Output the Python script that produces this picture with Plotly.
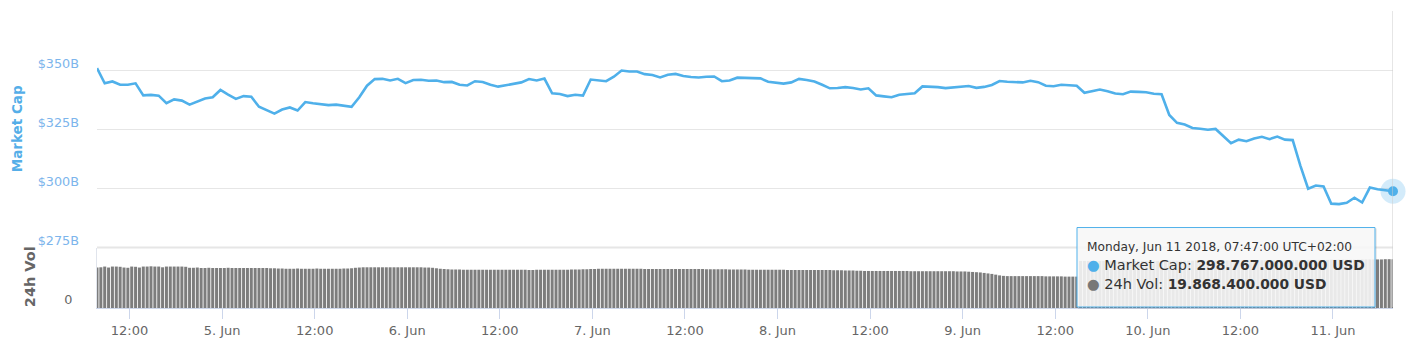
import datetime as dt
import plotly.graph_objects as go

# ---------------- data ----------------
start_time = dt.datetime(2018, 6, 4, 7, 47)

# Market cap (billions USD), hourly from 4 Jun 07:47 to 11 Jun 07:47
market_cap_b = [
    350.8, 344.4, 345.2, 343.8, 343.8, 344.4, 339.3, 339.5, 339.2, 336.0, 337.6, 337.1,
    335.4, 336.8, 338.0, 338.5, 341.6, 339.6, 337.8, 339.0, 338.7, 334.5, 333.2, 331.6,
    333.3, 334.2, 332.9, 336.5, 336.0, 335.5, 335.2, 335.4, 335.0, 334.5, 338.5, 343.4,
    346.2, 346.3, 345.6, 346.3, 344.5, 345.8, 345.9, 345.5, 345.6, 344.9, 345.0, 343.8,
    343.5, 345.3, 345.0, 343.8, 343.0, 343.7, 344.4, 344.8, 346.2, 345.6, 346.4, 340.2,
    339.9, 339.0, 339.6, 339.2, 346.0, 345.5, 345.3, 347.2, 349.8, 349.4, 349.4, 348.3,
    347.9, 346.9, 348.0, 348.4, 347.5, 347.1, 346.9, 347.2, 347.3, 345.3, 345.6, 346.8,
    346.6, 346.6, 346.5, 345.1, 344.6, 344.3, 344.8, 346.3, 345.8, 345.2, 343.8, 342.3,
    342.4, 342.8, 342.4, 341.8, 342.3, 339.3, 338.9, 338.5, 339.6, 339.9, 340.2, 343.1,
    343.1, 342.8, 342.4, 342.7, 342.8, 343.3, 342.5, 342.9, 343.7, 345.4, 345.1, 345.1,
    344.8, 345.5, 344.9, 343.4, 343.2, 343.8, 343.7, 343.4, 340.4, 341.0, 341.8, 341.1,
    340.1, 339.8, 340.9, 340.8, 340.6, 340.0, 339.8, 331.0, 327.7, 327.0, 325.5, 325.2,
    324.8, 325.1, 322.0, 319.1, 320.6, 319.9, 321.1, 321.8, 320.8, 321.9, 320.6, 320.4,
    309.5, 299.8, 301.2, 300.8, 293.5, 293.3, 293.9, 296.0, 294.0, 300.3, 299.6, 299.3,
    298.767,
]

# 24h volume (billions USD), every 30 minutes over the same period
volume_b = [
    16.5, 16.6, 16.9, 16.5, 16.9, 16.9, 16.8, 16.5, 16.4, 16.9, 16.8, 16.5,
    16.9, 16.9, 17.0, 16.9, 16.9, 16.6, 16.9, 16.9, 16.9, 16.9, 16.9, 16.8,
    16.4, 16.4, 16.5, 16.3, 16.3, 16.4, 16.3, 16.3, 16.3, 16.3, 16.4, 16.3,
    16.3, 16.3, 16.3, 16.3, 16.3, 16.3, 16.3, 16.3, 16.3, 16.2, 16.2, 16.1,
    16.1, 16.0, 16.0, 16.0, 16.1, 16.0, 16.0, 16.0, 16.0, 16.1, 16.0, 16.0,
    16.0, 16.0, 16.0, 16.0, 16.1, 16.1, 16.2, 16.4, 16.5, 16.6, 16.6, 16.6,
    16.6, 16.6, 16.6, 16.6, 16.6, 16.6, 16.6, 16.6, 16.6, 16.6, 16.6, 16.6,
    16.6, 16.5, 16.5, 16.4, 16.2, 16.0, 15.9, 15.8, 15.7, 15.7, 15.7, 15.6,
    15.6, 15.6, 15.6, 15.6, 15.6, 15.6, 15.6, 15.6, 15.6, 15.6, 15.6, 15.6,
    15.6, 15.6, 15.6, 15.6, 15.5, 15.5, 15.6, 15.6, 15.6, 15.6, 15.6, 15.6,
    15.6, 15.6, 15.6, 15.7, 15.7, 15.7, 15.8, 15.8, 15.9, 15.9, 16.0, 16.0,
    16.0, 16.0, 16.0, 16.0, 16.0, 16.0, 16.0, 16.0, 16.0, 16.0, 15.9, 15.9,
    15.9, 15.9, 15.9, 15.9, 15.9, 15.9, 15.9, 15.9, 15.9, 15.9, 15.9, 15.9,
    15.9, 15.9, 15.8, 15.8, 15.8, 15.8, 15.8, 15.8, 15.7, 15.7, 15.7, 15.7,
    15.7, 15.6, 15.6, 15.6, 15.6, 15.6, 15.6, 15.6, 15.6, 15.6, 15.6, 15.5,
    15.5, 15.5, 15.5, 15.5, 15.5, 15.5, 15.5, 15.5, 15.5, 15.5, 15.5, 15.4,
    15.4, 15.4, 15.3, 15.3, 15.3, 15.2, 15.2, 15.1, 15.1, 15.1, 15.1, 15.1,
    15.1, 15.1, 15.1, 15.1, 15.1, 15.1, 15.1, 15.0, 15.0, 15.0, 15.0, 15.0,
    15.0, 15.0, 15.0, 15.0, 15.0, 15.0, 15.0, 14.9, 14.9, 14.9, 14.8, 14.7,
    14.6, 14.5, 14.3, 14.1, 13.9, 13.6, 13.3, 13.1, 13.0, 13.0, 13.0, 13.0,
    13.0, 13.0, 13.0, 13.0, 13.0, 13.0, 12.9, 12.9, 12.9, 12.9, 12.9, 12.8,
    12.8, 12.8, 12.8, 19.2, 19.2, 19.2, 19.2, 19.2, 19.2, 19.2, 19.2, 19.2,
    19.2, 19.2, 19.2, 19.2, 19.2, 19.2, 19.2, 19.2, 19.2, 19.2, 19.2, 19.2,
    19.2, 19.2, 19.3, 19.3, 19.3, 19.3, 19.3, 19.3, 19.3, 19.4, 19.4, 19.4,
    19.4, 19.4, 19.4, 19.4, 19.4, 19.4, 19.4, 19.4, 19.4, 19.4, 19.4, 19.4,
    19.5, 19.5, 19.5, 19.5, 19.5, 19.5, 19.5, 19.5, 19.5, 19.5, 19.5, 19.5,
    19.5, 19.5, 19.6, 19.6, 19.6, 19.6, 19.6, 19.6, 19.7, 19.7, 19.7, 19.7,
    19.7, 19.7, 19.7, 19.8, 19.8, 19.8, 19.8, 19.8, 19.8, 19.8, 19.9, 19.9,
    19.8684,
]

x_tick_times = [
    "2018-06-04 12:00", "2018-06-05 00:00", "2018-06-05 12:00", "2018-06-06 00:00",
    "2018-06-06 12:00", "2018-06-07 00:00", "2018-06-07 12:00", "2018-06-08 00:00",
    "2018-06-08 12:00", "2018-06-09 00:00", "2018-06-09 12:00", "2018-06-10 00:00",
    "2018-06-10 12:00", "2018-06-11 00:00",
]
x_tick_labels = [
    "12:00", "5. Jun", "12:00", "6. Jun", "12:00", "7. Jun", "12:00", "8. Jun",
    "12:00", "9. Jun", "12:00", "10. Jun", "12:00", "11. Jun",
]
cap_ticks_b = [275, 300, 325, 350, 375]
cap_tick_labels = ["$275B", "$300B", "$325B", "$350B", ""]

# ---------------- derived ----------------
cap_times = [start_time + dt.timedelta(hours=i) for i in range(len(market_cap_b))]
vol_times = [start_time + dt.timedelta(minutes=30 * i) for i in range(len(volume_b))]
cap = [v * 1e9 for v in market_cap_b]
vol = [v * 1e9 for v in volume_b]

BLUE = "#4fb0ea"
GREY_BAR = "#7d7d7d"
FONT = "DejaVu Sans"

# pixel geometry helpers (plot area: x 97..1393, y 11..310)
W, H = 1411, 349
L, R, T, B = 97, 1411 - 1393, 11, 349 - 310
PW, PH = W - L - R, H - T - B


def px(xp):
    return (xp - L) / PW


def py(yp):
    return (H - B - yp) / PH


main_bottom = py(249)
vol_top = py(250)

fig = go.Figure()

fig.add_trace(go.Bar(
    x=vol_times, y=vol, xaxis="x2", yaxis="y2",
    marker=dict(color=GREY_BAR, line=dict(width=0)),
    showlegend=False,
))

fig.add_trace(go.Scatter(
    x=cap_times, y=cap, mode="lines", xaxis="x", yaxis="y",
    line=dict(color=BLUE, width=2.6, shape="linear"),
    showlegend=False,
))

# hover marker with halo at last point
fig.add_trace(go.Scatter(
    x=[cap_times[-1]], y=[cap[-1]], mode="markers", xaxis="x", yaxis="y",
    marker=dict(size=25, color="rgba(79,176,234,0.25)", line=dict(width=0)),
    showlegend=False, cliponaxis=False,
))
fig.add_trace(go.Scatter(
    x=[cap_times[-1]], y=[cap[-1]], mode="markers", xaxis="x", yaxis="y",
    marker=dict(size=10, color=BLUE, line=dict(width=0)),
    showlegend=False, cliponaxis=False,
))

x_range = [cap_times[0], cap_times[-1]]

fig.update_layout(
    width=W, height=H,
    margin=dict(l=L, r=R, t=T, b=B, pad=0),
    paper_bgcolor="white", plot_bgcolor="white",
    font=dict(family=FONT, size=12, color="#666666"),
    bargap=0.22,
    hovermode=False,
    xaxis=dict(
        domain=[0, 1], anchor="y", range=x_range, matches="x2",
        showticklabels=False, showgrid=False, zeroline=False, ticks="",
    ),
    yaxis=dict(
        domain=[main_bottom, 1], anchor="x",
        range=[cap_ticks_b[0] * 1e9, cap_ticks_b[-1] * 1e9],
        tickvals=[v * 1e9 for v in cap_ticks_b], ticktext=cap_tick_labels,
        showgrid=True, gridcolor="#e6e6e6", gridwidth=1, zeroline=False,
        ticks="", ticklabelstandoff=17, ticklabelshift=-7,
        tickfont=dict(family=FONT, size=12.8, color="#7cb5ec"),
    ),
    xaxis2=dict(
        domain=[0, 1], anchor="y2", range=x_range, type="date",
        tickvals=x_tick_times, ticktext=x_tick_labels,
        ticks="outside", ticklen=10, tickcolor="#ccd6eb", tickwidth=1,
        showline=True, linecolor="#ccd6eb", linewidth=1,
        showgrid=False, zeroline=False,
        tickfont=dict(family=FONT, size=13, color="#666666"),
    ),
    yaxis2=dict(
        domain=[0, vol_top], anchor="x2", range=[0, 24.3e9],
        tickvals=[0], ticktext=["0"],
        showgrid=False, zeroline=False, ticks="",
        showline=True, linecolor="#e0e4ec", linewidth=1,
        ticklabelstandoff=21, ticklabelshift=-8,
        tickfont=dict(family=FONT, size=12.8, color="#666666"),
    ),
)

shapes = [
    # pane separator band
    dict(type="line", xref="paper", yref="paper", x0=0, x1=1, y0=py(249), y1=py(249),
         line=dict(color="#e6e6e6", width=2)),
    # crosshair
    dict(type="line", xref="x", yref="paper", x0=cap_times[-1], x1=cap_times[-1],
         y0=py(309), y1=1, line=dict(color="#cccccc", width=1)),
    # tooltip shadow
    dict(type="rect", xref="paper", yref="paper",
         x0=px(1078), x1=px(1377), y0=py(311), y1=py(230),
         fillcolor="rgba(0,0,0,0.08)", line=dict(width=0), layer="above"),
    # tooltip box
    dict(type="rect", xref="paper", yref="paper",
         x0=px(1077), x1=px(1375), y0=py(309), y1=py(229),
         fillcolor="rgba(249,249,249,0.88)", line=dict(color=BLUE, width=1), layer="above"),
]
fig.update_layout(shapes=shapes)


def fmt_usd(v):
    return f"{v:,.0f}".replace(",", ".") + " USD"


tip_time = cap_times[-1].strftime("%A, %b %d %Y, %H:%M:%S") + " UTC+02:00"

annotations = [
    dict(text="<b>Market Cap</b>", xref="paper", yref="paper", x=px(17), y=py(130),
         textangle=-90, showarrow=False, xanchor="center", yanchor="middle",
         font=dict(family=FONT, size=13.5, color="#55aee8")),
    dict(text="<b>24h Vol</b>", xref="paper", yref="paper", x=px(30), y=py(279),
         textangle=-90, showarrow=False, xanchor="center", yanchor="middle",
         font=dict(family=FONT, size=14.5, color="#666666")),
    dict(text=tip_time, xref="paper", yref="paper", x=px(1085), y=py(249),
         showarrow=False, xanchor="left", yanchor="middle",
         font=dict(family=FONT, size=12.2, color="#333333")),
    dict(text=(f"<span style='color:{BLUE}'>●</span> Market Cap: "
               f"<span style='font-size:13.8px'><b>{fmt_usd(cap[-1])}</b></span>"),
         xref="paper", yref="paper", x=px(1085), y=py(267),
         showarrow=False, xanchor="left", yanchor="middle",
         font=dict(family=FONT, size=14.5, color="#333333")),
    dict(text=(f"<span style='color:#777777'>●</span> 24h Vol: "
               f"<span style='font-size:13.8px'><b>{fmt_usd(vol[-1])}</b></span>"),
         xref="paper", yref="paper", x=px(1085), y=py(286),
         showarrow=False, xanchor="left", yanchor="middle",
         font=dict(family=FONT, size=14.5, color="#333333")),
]
fig.update_layout(annotations=annotations)

fig.write_html("out.html")
